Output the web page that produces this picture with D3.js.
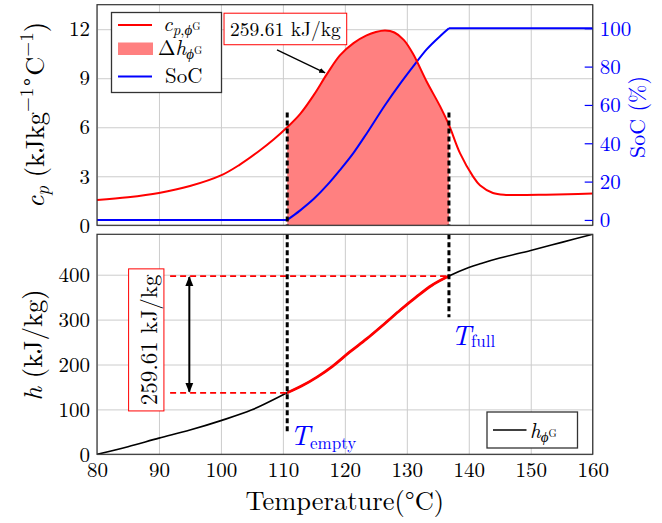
<!DOCTYPE html>
<html><head><meta charset="utf-8">
<script src="https://cdn.jsdelivr.net/npm/d3@7/dist/d3.min.js"></script>
<style>
body{margin:0;background:#fff}
svg{display:block}
text{font-family:"Latin Modern Roman","CMU Serif","Liberation Serif",serif}
</style>
</head><body>
<svg id="chart" width="662" height="523"></svg>
<script>
// ---------- data ----------
const tempTicks = [80, 90, 100, 110, 120, 130, 140, 150, 160];
const cpTicks = [0, 3, 6, 9, 12];
const socTicks = [0, 20, 40, 60, 80, 100];
const hTicks = [0, 100, 200, 300, 400];

const cpTemp = [80, 85, 90, 95, 100, 103, 106, 108.5, 110.7, 112.8, 115, 117.1, 119.2, 121.4, 123.5, 125, 126.5, 128, 129.5, 131, 133.2, 135.4, 136.8, 138.6, 140.7, 141.8, 143.9, 146, 148, 152, 156, 160];
const cpVal  = [1.55, 1.72, 1.98, 2.4, 3.05, 3.7, 4.5, 5.25, 6.0, 6.82, 7.98, 9.25, 10.4, 11.15, 11.62, 11.83, 11.92, 11.8, 11.35, 10.5, 8.8, 7.26, 6.14, 4.4, 2.98, 2.45, 1.98, 1.86, 1.85, 1.87, 1.9, 1.95];

const socTemp = [80, 110.7, 112.8, 115, 117.1, 119.2, 121.4, 123.5, 126.5, 128.9, 131, 133.2, 135.4, 136.8, 160];
const socVal  = [0, 0, 5, 11, 18, 26, 35, 45, 60, 71, 80, 89, 96, 100, 100];

const hTemp = [80, 85, 90, 95, 100, 105, 110.7, 113, 115.5, 118, 120.8, 123.5, 126.5, 129, 131.5, 134, 136.8, 140, 142, 145, 150, 155, 160];
const hVal  = [0, 17, 36, 54, 75, 99, 137, 152, 172, 196, 228, 257, 292, 322, 350, 376, 397, 416, 425, 437, 454, 472, 490];

const T_EMPTY = 110.7, T_FULL = 136.8;
const H_EMPTY = 137, H_FULL = 397;
const deltaText = "259.61 kJ/kg";

// ---------- layout ----------
const FONT = '"Latin Modern Roman","CMU Serif","Liberation Serif",serif';
const svg = d3.select("#chart");
const L = 97, R = 592.7, T1 = 4.7, B1 = 225.3, T2 = 234.3, B2 = 454.3;
const RED = "#ff0000", BLUE = "#0000ff", FILL = "#ff8080", GRID = "#cccccc", FRAME = "#333333";

const x = d3.scaleLinear().domain([80, 160]).range([L, R]);
const yCp = d3.scaleLinear().domain([0, 13.5]).range([B1, T1]);
const ySoc = d3.scaleLinear().domain([-2.8, 112.3]).range([B1, T1]);
const yH = d3.scaleLinear().domain([0, 490]).range([B2, T2]);

const cpData = cpTemp.map((t, i) => [t, cpVal[i]]);
const socData = socTemp.map((t, i) => [t, socVal[i]]);
const hData = hTemp.map((t, i) => [t, hVal[i]]);
const smooth = d3.curveCatmullRom.alpha(0.5);

const defs = svg.append("defs");
defs.append("clipPath").attr("id", "clipTop").append("rect")
  .attr("x", L).attr("y", T1).attr("width", R - L).attr("height", B1 - T1);
defs.append("clipPath").attr("id", "clipBot").append("rect")
  .attr("x", L).attr("y", T2).attr("width", R - L).attr("height", B2 - T2);
defs.append("clipPath").attr("id", "clipBand").append("rect")
  .attr("x", x(T_EMPTY)).attr("y", 0).attr("width", x(T_FULL) - x(T_EMPTY)).attr("height", 523);
defs.append("marker").attr("id", "arrow")
  .attr("viewBox", "0 0 10 10").attr("refX", 9).attr("refY", 5)
  .attr("markerWidth", 5).attr("markerHeight", 5).attr("orient", "auto-start-reverse")
  .append("path").attr("d", "M0,1 L10,5 L0,9 Z").attr("fill", "#000");

function rich(sel, parts) {
  let cur = 0;
  parts.forEach(p => {
    const b = p.b || 0;
    const ts = sel.append("tspan").text(p.t).attr("dy", b - cur).attr("font-size", p.s);
    ts.attr("font-style", p.i ? "italic" : "normal");
    cur = b;
  });
}

function styleAxis(g, size, color) {
  g.select(".domain").remove();
  g.attr("font-family", FONT);
  g.selectAll("text").attr("font-family", FONT).attr("font-size", size).attr("fill", color);
}

// ---------- top panel ----------
const topG = svg.append("g");
topG.append("g").attr("transform", `translate(0,${B1})`)
  .call(d3.axisBottom(x).tickValues(tempTicks).tickSize(-(B1 - T1)).tickFormat(""))
  .call(g => { g.select(".domain").remove(); g.selectAll("line").attr("stroke", GRID); });
topG.append("g").attr("transform", `translate(${L},0)`)
  .call(d3.axisLeft(yCp).tickValues(cpTicks).tickSize(-(R - L)).tickFormat(""))
  .call(g => { g.select(".domain").remove(); g.selectAll("line").attr("stroke", GRID); });

const plotTop = topG.append("g").attr("clip-path", "url(#clipTop)");
const cpLine = d3.line().x(d => x(d[0])).y(d => yCp(d[1])).curve(smooth);
const cpArea = d3.area().x(d => x(d[0])).y0(yCp(0)).y1(d => yCp(d[1])).curve(smooth);
plotTop.append("g").attr("clip-path", "url(#clipBand)")
  .append("path").datum(cpData).attr("d", cpArea).attr("fill", FILL);

const socFlat = d3.line().x(d => x(d[0])).y(d => ySoc(d[1]));
const socCurve = d3.line().x(d => x(d[0])).y(d => ySoc(d[1])).curve(d3.curveMonotoneX);
plotTop.append("path").datum(socData.filter(d => d[0] <= T_EMPTY)).attr("d", socFlat)
  .attr("fill", "none").attr("stroke", BLUE).attr("stroke-width", 2);
plotTop.append("path").datum(socData.filter(d => d[0] >= T_EMPTY && d[0] <= T_FULL)).attr("d", socCurve)
  .attr("fill", "none").attr("stroke", BLUE).attr("stroke-width", 2);
plotTop.append("path").datum(socData.filter(d => d[0] >= T_FULL)).attr("d", socFlat)
  .attr("fill", "none").attr("stroke", BLUE).attr("stroke-width", 2);

plotTop.append("path").datum(cpData).attr("d", cpLine)
  .attr("fill", "none").attr("stroke", RED).attr("stroke-width", 2);

[T_EMPTY, T_FULL].forEach(t => {
  topG.append("line").attr("x1", x(t)).attr("x2", x(t)).attr("y1", yCp(6.9)).attr("y2", yCp(0))
    .attr("stroke", "#000").attr("stroke-width", 3).attr("stroke-dasharray", "5,3");
});

topG.append("rect").attr("x", L).attr("y", T1).attr("width", R - L).attr("height", B1 - T1)
  .attr("fill", "none").attr("stroke", FRAME).attr("stroke-width", 1.2);

topG.append("g").attr("transform", `translate(${L},0)`)
  .call(d3.axisLeft(yCp).tickValues(cpTicks).tickSize(0).tickPadding(7))
  .call(g => styleAxis(g, 21, "#000"));
topG.append("g").attr("transform", `translate(${R},0)`)
  .call(d3.axisRight(ySoc).tickValues(socTicks).tickSize(-8).tickPadding(7))
  .call(g => { styleAxis(g, 21, BLUE); g.selectAll("line").attr("stroke", BLUE).attr("stroke-width", 1.2); });

// legend
const lg = topG.append("g");
lg.append("rect").attr("x", 111.5).attr("y", 12.5).attr("width", 110).attr("height", 80)
  .attr("fill", "#fff").attr("stroke", FRAME).attr("stroke-width", 1.3);
lg.append("line").attr("x1", 118).attr("x2", 152).attr("y1", 25).attr("y2", 25).attr("stroke", RED).attr("stroke-width", 2);
lg.append("rect").attr("x", 118).attr("y", 42.5).attr("width", 35).attr("height", 12.5).attr("fill", FILL);
lg.append("line").attr("x1", 118).attr("x2", 152).attr("y1", 76.5).attr("y2", 76.5).attr("stroke", BLUE).attr("stroke-width", 2);
rich(lg.append("text").attr("x", 163).attr("y", 30.5), [
  {t: "c", s: 21, i: true}, {t: "p", s: 15, i: true, b: 4}, {t: ",", s: 15, b: 4},
  {t: "ϕ", s: 15, i: true, b: 4}, {t: "G", s: 10.5, b: -1}]);
rich(lg.append("text").attr("x", 158).attr("y", 55), [
  {t: "Δ", s: 21}, {t: "h", s: 21, i: true}, {t: "ϕ", s: 15, i: true, b: 4}, {t: "G", s: 10.5, b: -1}]);
lg.append("text").attr("x", 165).attr("y", 83).attr("font-size", 21).text("SoC");

// annotation
topG.append("rect").attr("x", x(100.5)).attr("y", yCp(12.98)).attr("width", x(120.3) - x(100.5)).attr("height", yCp(11.05) - yCp(12.98))
  .attr("fill", "#fff").attr("stroke", RED).attr("stroke-width", 1);
topG.append("text").attr("x", (x(100.5) + x(120.3)) / 2).attr("y", 35.5).attr("text-anchor", "middle")
  .attr("font-size", 19.5).text(deltaText);
topG.append("line").attr("x1", x(109.05)).attr("y1", yCp(10.74)).attr("x2", x(116.8)).attr("y2", yCp(9.33))
  .attr("stroke", "#000").attr("stroke-width", 1.3).attr("marker-end", "url(#arrow)");

rich(svg.append("text").attr("transform", "translate(44,115) rotate(-90)").attr("text-anchor", "middle"), [
  {t: "c", s: 26.5, i: true}, {t: "p", s: 19, i: true, b: 5}, {t: " (kJkg", s: 26.5, b: 0},
  {t: "−1", s: 19, b: -11}, {t: "∘", s: 19, b: -11}, {t: "C", s: 26.5, b: 0}, {t: "−1", s: 19, b: -11}, {t: ")", s: 26.5, b: 0}]);
svg.append("text").attr("transform", "translate(645,117) rotate(-90)").attr("text-anchor", "middle")
  .attr("font-size", 22).attr("fill", BLUE).text("SoC (%)");

// ---------- bottom panel ----------
const botG = svg.append("g");
botG.append("g").attr("transform", `translate(0,${B2})`)
  .call(d3.axisBottom(x).tickValues(tempTicks).tickSize(-(B2 - T2)).tickFormat(""))
  .call(g => { g.select(".domain").remove(); g.selectAll("line").attr("stroke", GRID); });
botG.append("g").attr("transform", `translate(${L},0)`)
  .call(d3.axisLeft(yH).tickValues(hTicks).tickSize(-(R - L)).tickFormat(""))
  .call(g => { g.select(".domain").remove(); g.selectAll("line").attr("stroke", GRID); });

const plotBot = botG.append("g").attr("clip-path", "url(#clipBot)");
const hLine = d3.line().x(d => x(d[0])).y(d => yH(d[1])).curve(smooth);

const guideX = 91.8;
[H_EMPTY, H_FULL].forEach((h, i) => {
  botG.append("line").attr("x1", x(guideX)).attr("x2", x(i === 0 ? T_EMPTY : T_FULL))
    .attr("y1", yH(h)).attr("y2", yH(h))
    .attr("stroke", RED).attr("stroke-width", 1.8).attr("stroke-dasharray", "6,4");
});

plotBot.append("path").datum(hData).attr("d", hLine)
  .attr("fill", "none").attr("stroke", "#000").attr("stroke-width", 1.6);
plotBot.append("g").attr("clip-path", "url(#clipBand)")
  .append("path").datum(hData).attr("d", hLine)
  .attr("fill", "none").attr("stroke", RED).attr("stroke-width", 2.8);

botG.append("line").attr("x1", x(T_EMPTY)).attr("x2", x(T_EMPTY)).attr("y1", yH(490)).attr("y2", yH(50))
  .attr("stroke", "#000").attr("stroke-width", 3).attr("stroke-dasharray", "5,3");
botG.append("line").attr("x1", x(T_FULL)).attr("x2", x(T_FULL)).attr("y1", yH(490)).attr("y2", yH(305))
  .attr("stroke", "#000").attr("stroke-width", 3).attr("stroke-dasharray", "5,3");

botG.append("line").attr("x1", x(94.9)).attr("x2", x(94.9)).attr("y1", yH(H_FULL) + 1).attr("y2", yH(H_EMPTY) - 1)
  .attr("stroke", "#000").attr("stroke-width", 2)
  .attr("marker-start", "url(#arrow)").attr("marker-end", "url(#arrow)");

botG.append("rect").attr("x", x(85.1)).attr("y", yH(413)).attr("width", x(90.8) - x(85.1)).attr("height", yH(96.6) - yH(413))
  .attr("fill", "#fff").attr("stroke", RED).attr("stroke-width", 1);
botG.append("text").attr("transform", `translate(157,${(yH(413) + yH(96.6)) / 2}) rotate(-90)`)
  .attr("text-anchor", "middle").attr("font-size", 23).text(deltaText);

rich(botG.append("text").attr("x", 290).attr("y", 445).attr("fill", BLUE), [
  {t: "T", s: 28, i: true}, {t: "empty", s: 17, b: 4}]);
rich(botG.append("text").attr("x", 451).attr("y", 345).attr("fill", BLUE), [
  {t: "T", s: 28, i: true}, {t: "full", s: 17, b: 2}]);

botG.append("rect").attr("x", 487).attr("y", 412).attr("width", 90.5).attr("height", 36)
  .attr("fill", "#fff").attr("stroke", FRAME).attr("stroke-width", 1.3);
botG.append("line").attr("x1", 493).attr("x2", 526.5).attr("y1", 430).attr("y2", 430).attr("stroke", "#000").attr("stroke-width", 1.6);
rich(botG.append("text").attr("x", 530).attr("y", 438), [
  {t: "h", s: 21, i: true}, {t: "ϕ", s: 15, i: true, b: 4}, {t: "G", s: 10.5, b: -1}]);

botG.append("rect").attr("x", L).attr("y", T2).attr("width", R - L).attr("height", B2 - T2)
  .attr("fill", "none").attr("stroke", FRAME).attr("stroke-width", 1.2);

botG.append("g").attr("transform", `translate(${L},0)`)
  .call(d3.axisLeft(yH).tickValues(hTicks).tickSize(0).tickPadding(7))
  .call(g => styleAxis(g, 21, "#000"));
botG.append("g").attr("transform", `translate(0,${B2})`)
  .call(d3.axisBottom(x).tickValues(tempTicks).tickSize(0).tickPadding(8))
  .call(g => styleAxis(g, 21, "#000"));

rich(svg.append("text").attr("transform", "translate(42,345) rotate(-90)").attr("text-anchor", "middle"), [
  {t: "h", s: 26.5, i: true}, {t: " (kJ/kg)", s: 26.5}]);
svg.append("text").attr("x", (L + R) / 2).attr("y", 510).attr("text-anchor", "middle")
  .attr("font-size", 26.5).text("Temperature(°C)");
</script>
</body></html>
